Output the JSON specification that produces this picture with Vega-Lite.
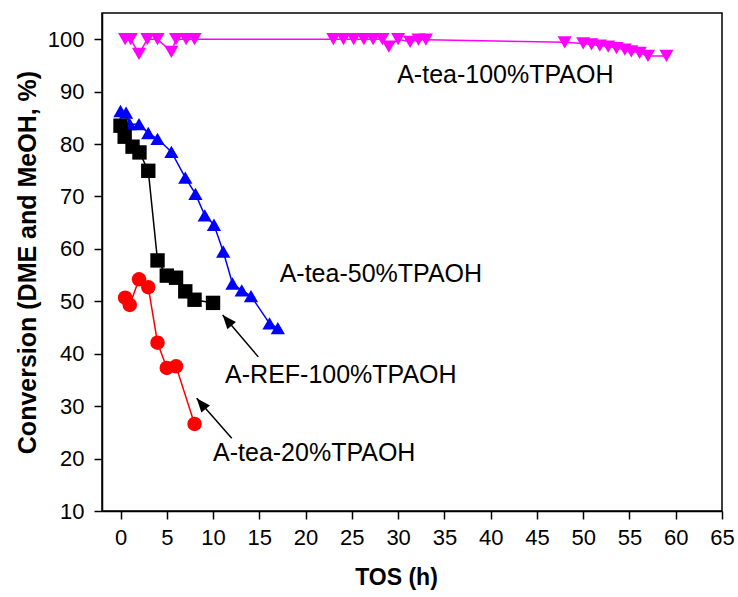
{
  "$schema": "https://vega.github.io/schema/vega-lite/v6.json",
  "width": 620,
  "height": 498,
  "autosize": "none",
  "padding": {"left": 102, "top": 13, "right": 16, "bottom": 86},
  "background": "white",
  "config": {
    "font": "Liberation Sans",
    "view": {"stroke": "black", "strokeWidth": 1.5},
    "axis": {"grid": false, "domainColor": "black", "domainWidth": 1.5, "tickColor": "black", "tickWidth": 1.5, "labelColor": "black", "titleColor": "black", "labelFontSize": 22, "labelFont": "Liberation Sans", "titleFont": "Liberation Sans", "labelFlush": false, "labelOverlap": false}
  },
  "datasets": {
    "series": [
      {"s": "A-tea-100%TPAOH", "x": 0.5, "y": 100},
      {"s": "A-tea-100%TPAOH", "x": 1.1, "y": 100},
      {"s": "A-tea-100%TPAOH", "x": 2, "y": 97.2},
      {"s": "A-tea-100%TPAOH", "x": 2.9, "y": 100},
      {"s": "A-tea-100%TPAOH", "x": 4, "y": 100},
      {"s": "A-tea-100%TPAOH", "x": 5.5, "y": 97.6},
      {"s": "A-tea-100%TPAOH", "x": 6, "y": 100},
      {"s": "A-tea-100%TPAOH", "x": 7.1, "y": 100},
      {"s": "A-tea-100%TPAOH", "x": 8, "y": 100},
      {"s": "A-tea-100%TPAOH", "x": 23, "y": 100},
      {"s": "A-tea-100%TPAOH", "x": 24.1, "y": 100},
      {"s": "A-tea-100%TPAOH", "x": 25.2, "y": 100},
      {"s": "A-tea-100%TPAOH", "x": 26.3, "y": 100},
      {"s": "A-tea-100%TPAOH", "x": 27.3, "y": 100},
      {"s": "A-tea-100%TPAOH", "x": 28.3, "y": 100},
      {"s": "A-tea-100%TPAOH", "x": 29, "y": 98.6},
      {"s": "A-tea-100%TPAOH", "x": 30, "y": 100},
      {"s": "A-tea-100%TPAOH", "x": 31.3, "y": 99.5},
      {"s": "A-tea-100%TPAOH", "x": 32.2, "y": 99.9},
      {"s": "A-tea-100%TPAOH", "x": 33, "y": 99.9},
      {"s": "A-tea-100%TPAOH", "x": 48, "y": 99.4},
      {"s": "A-tea-100%TPAOH", "x": 50, "y": 99.2},
      {"s": "A-tea-100%TPAOH", "x": 50.9, "y": 99.0},
      {"s": "A-tea-100%TPAOH", "x": 51.8, "y": 98.8},
      {"s": "A-tea-100%TPAOH", "x": 52.7, "y": 98.6},
      {"s": "A-tea-100%TPAOH", "x": 53.6, "y": 98.3},
      {"s": "A-tea-100%TPAOH", "x": 54.5, "y": 98.0},
      {"s": "A-tea-100%TPAOH", "x": 55.2, "y": 97.7},
      {"s": "A-tea-100%TPAOH", "x": 56.1, "y": 97.4},
      {"s": "A-tea-100%TPAOH", "x": 57, "y": 96.8},
      {"s": "A-tea-100%TPAOH", "x": 59, "y": 96.8},
      {"s": "A-tea-50%TPAOH", "x": 0, "y": 86.3},
      {"s": "A-tea-50%TPAOH", "x": 0.6, "y": 86.0},
      {"s": "A-tea-50%TPAOH", "x": 1, "y": 83.8},
      {"s": "A-tea-50%TPAOH", "x": 2, "y": 83.8},
      {"s": "A-tea-50%TPAOH", "x": 3, "y": 82.1},
      {"s": "A-tea-50%TPAOH", "x": 4, "y": 81.0},
      {"s": "A-tea-50%TPAOH", "x": 5.5, "y": 78.5},
      {"s": "A-tea-50%TPAOH", "x": 7, "y": 73.6},
      {"s": "A-tea-50%TPAOH", "x": 8.1, "y": 70.5},
      {"s": "A-tea-50%TPAOH", "x": 9.1, "y": 66.4},
      {"s": "A-tea-50%TPAOH", "x": 10.1, "y": 64.6},
      {"s": "A-tea-50%TPAOH", "x": 11.1, "y": 59.5},
      {"s": "A-tea-50%TPAOH", "x": 12.1, "y": 53.4},
      {"s": "A-tea-50%TPAOH", "x": 13.1, "y": 52.1},
      {"s": "A-tea-50%TPAOH", "x": 14.1, "y": 51.0},
      {"s": "A-tea-50%TPAOH", "x": 16.1, "y": 45.8},
      {"s": "A-tea-50%TPAOH", "x": 17, "y": 44.9},
      {"s": "A-REF-100%TPAOH", "x": 0, "y": 83.5},
      {"s": "A-REF-100%TPAOH", "x": 0.45, "y": 81.4},
      {"s": "A-REF-100%TPAOH", "x": 1.3, "y": 79.5},
      {"s": "A-REF-100%TPAOH", "x": 2.05, "y": 78.4},
      {"s": "A-REF-100%TPAOH", "x": 3, "y": 74.9},
      {"s": "A-REF-100%TPAOH", "x": 4, "y": 57.8},
      {"s": "A-REF-100%TPAOH", "x": 5, "y": 54.9},
      {"s": "A-REF-100%TPAOH", "x": 6, "y": 54.5},
      {"s": "A-REF-100%TPAOH", "x": 7, "y": 51.9},
      {"s": "A-REF-100%TPAOH", "x": 8, "y": 50.3},
      {"s": "A-REF-100%TPAOH", "x": 10, "y": 49.7},
      {"s": "A-tea-20%TPAOH", "x": 0.5, "y": 50.7},
      {"s": "A-tea-20%TPAOH", "x": 1, "y": 49.3},
      {"s": "A-tea-20%TPAOH", "x": 2, "y": 54.2},
      {"s": "A-tea-20%TPAOH", "x": 3, "y": 52.7},
      {"s": "A-tea-20%TPAOH", "x": 4, "y": 42.1},
      {"s": "A-tea-20%TPAOH", "x": 5, "y": 37.3},
      {"s": "A-tea-20%TPAOH", "x": 6, "y": 37.6},
      {"s": "A-tea-20%TPAOH", "x": 8, "y": 26.6}
    ],
    "labels": [
      {"text": "A-tea-100%TPAOH", "x": 29.9, "y": 93.2},
      {"text": "A-tea-50%TPAOH", "x": 17.2, "y": 55.2},
      {"text": "A-REF-100%TPAOH", "x": 11.3, "y": 35.9},
      {"text": "A-tea-20%TPAOH", "x": 10.0, "y": 21.1}
    ],
    "arrows": [
      {"x": 14.89, "y": 39.4, "x2": 11.04, "y2": 47.4},
      {"x": 12.02, "y": 23.9, "x2": 8.23, "y2": 31.5}
    ]
  },
  "layer": [
    {
      "data": {"name": "series"},
      "mark": {"type": "line", "strokeWidth": 1.5},
      "encoding": {
        "x": {"field": "x", "type": "quantitative", "scale": {"domain": [-2, 65], "nice": false, "zero": false},
          "axis": {"title": "TOS (h)", "titleFontSize": 23, "titleFontWeight": "bold", "titlePadding": 18, "titleX": 294,
            "values": [0, 2.5, 5, 7.5, 10, 12.5, 15, 17.5, 20, 22.5, 25, 27.5, 30, 32.5, 35, 37.5, 40, 42.5, 45, 47.5, 50, 52.5, 55, 57.5, 60, 62.5, 65],
            "labelExpr": "datum.value % 5 === 0 ? datum.label : ''",
            "tickSize": {"condition": {"test": "datum.value % 5 === 0", "value": 8}, "value": 4},
            "labelPadding": 8}},
        "y": {"field": "y", "type": "quantitative", "scale": {"domain": [10, 105], "nice": false, "zero": false},
          "axis": {"title": "Conversion (DME and MeOH, %)", "titleFontSize": 25, "titleFontWeight": "bold", "titlePadding": 7,
            "values": [10, 15, 20, 25, 30, 35, 40, 45, 50, 55, 60, 65, 70, 75, 80, 85, 90, 95, 100],
            "labelExpr": "datum.value % 10 === 0 ? datum.label : ''",
            "tickSize": {"condition": {"test": "datum.value % 10 === 0", "value": 8}, "value": 4},
            "labelPadding": 10}},
        "color": {"field": "s", "type": "nominal", "legend": null,
          "scale": {"domain": ["A-tea-100%TPAOH", "A-tea-50%TPAOH", "A-REF-100%TPAOH", "A-tea-20%TPAOH"], "range": ["#ff00ff", "#0000ff", "#000000", "#ff0000"]}},
        "detail": {"field": "s"}
      }
    },
    {
      "data": {"name": "series"},
      "mark": {"type": "point", "filled": true, "opacity": 1},
      "encoding": {
        "x": {"field": "x", "type": "quantitative"},
        "y": {"field": "y", "type": "quantitative"},
        "color": {"field": "s", "type": "nominal", "legend": null},
        "shape": {"field": "s", "type": "nominal", "legend": null,
          "scale": {"domain": ["A-tea-100%TPAOH", "A-tea-50%TPAOH", "A-REF-100%TPAOH", "A-tea-20%TPAOH"], "range": ["triangle-down", "triangle-up", "square", "circle"]}},
        "size": {"field": "s", "type": "nominal", "legend": null,
          "scale": {"domain": ["A-tea-100%TPAOH", "A-tea-50%TPAOH", "A-REF-100%TPAOH", "A-tea-20%TPAOH"], "range": [200, 210, 80, 95]}}
      }
    },
    {
      "data": {"name": "arrows"},
      "mark": {"type": "rule", "color": "black", "strokeWidth": 1.5},
      "encoding": {
        "x": {"field": "x", "type": "quantitative"},
        "y": {"field": "y", "type": "quantitative"},
        "x2": {"field": "x2"},
        "y2": {"field": "y2"}
      }
    },
    {
      "data": {"name": "arrows"},
      "mark": {"type": "point", "filled": true, "opacity": 1, "color": "black", "shape": "M0,0L-0.4,1L0.4,1Z", "size": 784, "angle": 320},
      "encoding": {
        "x": {"field": "x2", "type": "quantitative"},
        "y": {"field": "y2", "type": "quantitative"}
      }
    },
    {
      "data": {"name": "labels"},
      "mark": {"type": "text", "align": "left", "baseline": "middle", "fontSize": 25, "color": "black", "font": "Liberation Sans"},
      "encoding": {
        "x": {"field": "x", "type": "quantitative"},
        "y": {"field": "y", "type": "quantitative"},
        "text": {"field": "text"}
      }
    }
  ]
}
